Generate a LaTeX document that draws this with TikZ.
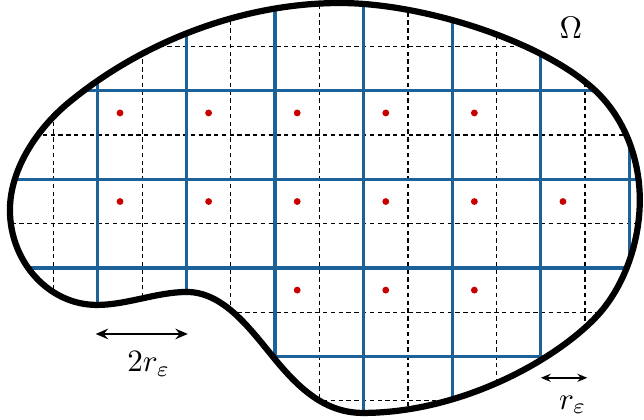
\documentclass[tikz,border=0pt]{standalone}
\usepackage{amsmath,amssymb}
\usetikzlibrary{arrows.meta, calc}

\definecolor{gridblue}{RGB}{28,98,152}
\definecolor{dotred}{RGB}{200,0,0}

% outline of the domain
\def\blobpath{(5.463,5.982)
    .. controls (7.472,5.982) and (10.474,4.989) .. (11.490,3.725)
    .. controls (11.986,3.115) and (12.235,2.325) .. (12.235,1.535)
    .. controls (12.235,0.632) and (11.919,-0.339) .. (11.332,-1.016)
    .. controls (10.429,-2.032) and (8.239,-3.273) .. (5.982,-3.273)
    .. controls (5.056,-3.273) and (4.447,-2.619) .. (3.883,-1.919)
    .. controls (3.386,-1.309) and (2.799,-0.542) .. (2.009,-0.542)
    .. controls (1.332,-0.542) and (0.655,-0.835) .. (-0.023,-0.835)
    .. controls (-1.106,-0.835) and (-1.986,0.135) .. (-1.986,1.309)
    .. controls (-1.986,2.257) and (-1.332,3.205) .. (-0.587,3.792)
    .. controls (1.084,5.147) and (3.318,5.982) .. (5.463,5.982) -- cycle}

\begin{document}
\begin{tikzpicture}[x=0.5cm, y=0.5cm,
    fineline/.style={black, line width=0.42pt, dash pattern=on 1.4pt off 1.1pt},
    coarseline/.style={gridblue, line width=1pt},
    boundary/.style={black, line width=2pt},
    bigarrow/.style={<->, line width=0.65pt, >={Stealth[length=4pt, width=3.4pt, inset=1.4pt]}},
    smallarrow/.style={<->, line width=0.5pt, >={Stealth[length=3.2pt, width=2.6pt, inset=1.1pt]}}]

    \useasboundingbox (-2.21,-3.41) rectangle (12.33,6.05);

    % ---------------------------------------------------
    % Grids, clipped to the domain
    % ---------------------------------------------------
    \begin{scope}
        \clip \blobpath;
        \draw[fineline] (-3,-4) grid[step=1] (13,7);
        \draw[coarseline] (-4,-4) grid[step=2] (14,8);

        % one point in each interior coarse cell
        \foreach \p in {(0.5,3.5),(2.5,3.5),(4.5,3.5),(6.5,3.5),(8.5,3.5),
                        (0.5,1.5),(2.5,1.5),(4.5,1.5),(6.5,1.5),(8.5,1.5),(10.5,1.5),
                        (4.5,-0.5),(6.5,-0.5),(8.5,-0.5)} {
            \fill[dotred] \p circle (1.1pt);
        }
    \end{scope}

    % ---------------------------------------------------
    % Boundary
    % ---------------------------------------------------
    \draw[boundary] \blobpath;

    \node (omega) at (10.68,5.41) {$\Omega$};

    % ---------------------------------------------------
    % Scales
    % ---------------------------------------------------
    \coordinate (bigL) at (-0.05,-1.49);
    \coordinate (bigR) at (2.03,-1.49);
    \draw[bigarrow] (bigL) -- (bigR);
    \node (bigtext) at (1.15,-2.17) {$2r_\varepsilon$};

    \coordinate (smallL) at (10.0,-2.48);
    \coordinate (smallR) at (11.05,-2.48);
    \draw[smallarrow] (smallL) -- (smallR);
    \node (smalltext) at (10.72,-3.09) {$r_\varepsilon$};

\end{tikzpicture}
\end{document}
